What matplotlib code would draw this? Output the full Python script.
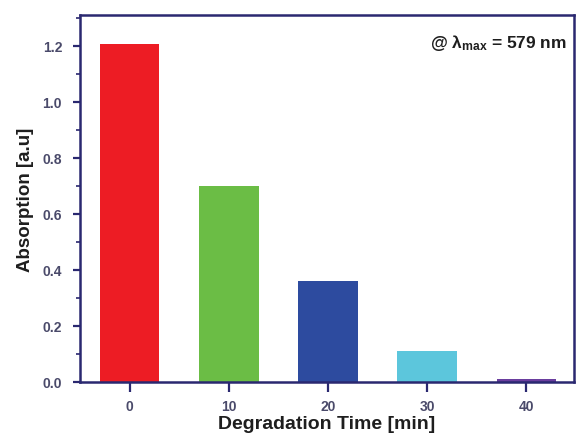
import matplotlib
matplotlib.use("Agg")
import matplotlib.pyplot as plt
from matplotlib.ticker import MultipleLocator

times = [0, 10, 20, 30, 40]
absorption = [1.205, 0.70, 0.36, 0.11, 0.012]
colors = ["#ED1C24", "#6BBD45", "#2D4B9F", "#5CC6DC", "#6A3E9E"]
xtick_labels = ["0", "10", "20", "30", "40"]

plt.rcParams['font.family'] = ['Liberation Sans', 'DejaVu Sans']
plt.rcParams['mathtext.fontset'] = 'custom'
plt.rcParams['mathtext.rm'] = 'Liberation Sans:bold'
plt.rcParams['mathtext.it'] = 'Liberation Sans:bold'
fig = plt.figure(figsize=(5.76, 4.39), dpi=100)
ax = fig.add_axes([0.139, 0.1276, 0.8575, 0.836])

ax.bar(times, absorption, width=6, color=colors, edgecolor='none')

ax.set_xlim(-5, 44.8)
ax.set_ylim(0, 1.31)
ax.set_xticks(times)
ax.set_xticklabels(xtick_labels)
ax.set_yticks([0.0, 0.2, 0.4, 0.6, 0.8, 1.0, 1.2])
ax.set_yticklabels(["0.0", "0.2", "0.4", "0.6", "0.8", "1.0", "1.2"])
ax.yaxis.set_minor_locator(MultipleLocator(0.1))

spine_col = "#2A2870"
for s in ax.spines.values():
    s.set_color(spine_col)
    s.set_linewidth(1.8)

ax.tick_params(axis='both', which='major', direction='out', length=5, width=1.6,
               color=spine_col, labelsize=10, labelcolor="#4A4A6A")
ax.tick_params(axis='x', which='major', length=7, pad=5)
ax.tick_params(axis='y', which='major', pad=8)
ax.tick_params(axis='y', which='minor', direction='out', length=3, width=1.2, color=spine_col)
for lab in ax.get_xticklabels() + ax.get_yticklabels():
    lab.set_fontweight('bold')

ax.set_xlabel("Degradation Time [min]", fontsize=14, fontweight='bold', color="#1E1E1E", labelpad=2)
ax.set_ylabel("Absorption [a.u]", fontsize=13.5, fontweight='bold', color="#1E1E1E", labelpad=6)

ax.text(0.985, 0.926, r"@ $\lambda_{\mathrm{max}}$ = 579 nm", transform=ax.transAxes,
        ha='right', va='center', fontsize=12.5, fontweight='bold', color="#1E1E1E")

fig.savefig("out.png", dpi=100)
